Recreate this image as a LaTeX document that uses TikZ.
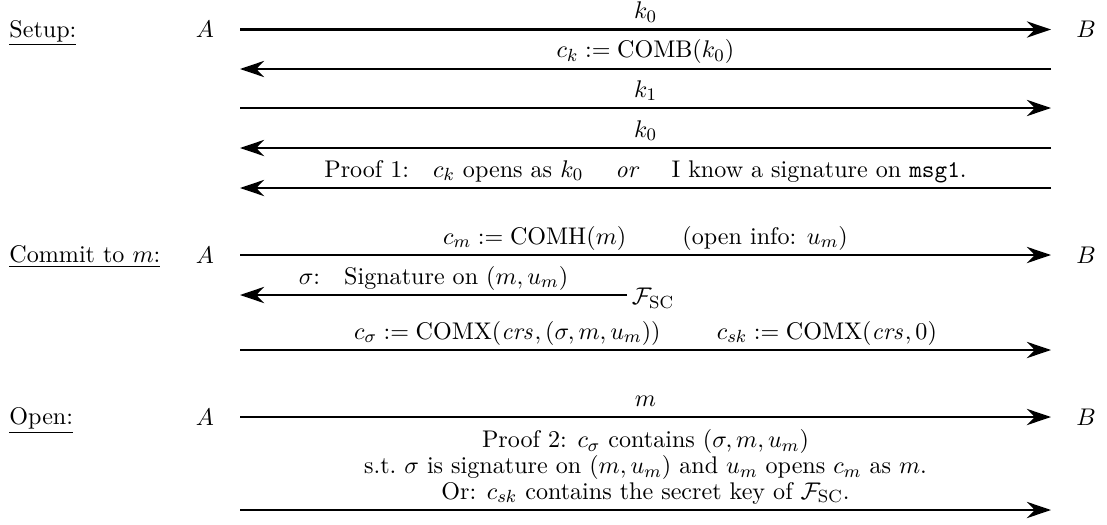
\documentclass[tikz,border=0pt]{standalone}
\usetikzlibrary{arrows.meta}
\begin{document}
\begin{tikzpicture}[x=0.4545pt,y=-0.4545pt,
  font=\fontsize{10.95}{13.6}\selectfont,
  msg/.style={line width=1.1pt,-{Stealth[length=11pt,width=7.4pt,inset=3.6pt]}},
  lbl/.style={anchor=base,inner sep=0pt,yshift=5pt},
  party/.style={inner sep=0pt},
  phase/.style={anchor=base west,inner sep=0pt}]
\path[use as bounding box] (0,0) rectangle (1107,525);

% message rails: left ends (L) and right ends (R)
\foreach \n/\y in {1/29.5,2/69,3/108,4/148,5/188,6/255,7/295,8/350,9/417,10/510}{
  \coordinate (L\n) at (240,\y);
  \coordinate (R\n) at (1051,\y);
}

% phase headings and parties
\node[phase] (ph1) at (9,37) {\underline{Setup:}};
\node[phase] (ph2) at (9,262.5) {\underline{Commit to $m$:}};
\node[phase] (ph3) at (9,424.5) {\underline{Open:}};
\node[party] (A1) at (205,29.5) {$A$};
\node[party] (B1) at (1086,29.5) {$B$};
\node[party] (A2) at (205,255) {$A$};
\node[party] (B2) at (1086,255) {$B$};
\node[party] (A3) at (205,417) {$A$};
\node[party] (B3) at (1086,417) {$B$};

% setup
\draw[msg] (L1) -- node[lbl] {$k_0$} (R1);
\draw[msg] (R2) -- node[lbl] {$c_k := \mathrm{COMB}(k_0)$} (L2);
\draw[msg] (L3) -- node[lbl] {$k_1$} (R3);
\draw[msg] (R4) -- node[lbl] {$k_0$} (L4);
\draw[msg] (R5) -- node[lbl] {Proof 1:\quad $c_k$ opens as $k_0$ \quad \textit{or} \quad I know a signature on \texttt{msg1}.} (L5);

% commit
\draw[msg] (L6) -- node[lbl] {$c_m := \mathrm{COMH}(m)$ \qquad (open info: $u_m$)} (R6);
\node[anchor=west,inner sep=2pt,yshift=-1.5pt] (fsc) at (627,295) {$\mathcal{F}_{\mathrm{SC}}$};
\draw[msg] ([yshift=1.5pt]fsc.west) -- node[lbl] {$\sigma$:\quad Signature on $(m,u_m)$} (L7);
\draw[msg] (L8) -- node[lbl] {$c_\sigma := \mathrm{COMX}(\mathit{crs},(\sigma,m,u_m))$ \qquad $c_{sk} := \mathrm{COMX}(\mathit{crs},0)$} (R8);

% open
\draw[msg] (L9) -- node[lbl] {$m$} (R9);
\draw[msg] (L10) -- node[anchor=south,inner sep=0pt,yshift=2.2pt,align=center,
    font=\fontsize{10.95}{11.6}\selectfont]
  {Proof 2: $c_\sigma$ contains $(\sigma,m,u_m)$\\
   s.t.\ $\sigma$ is signature on $(m,u_m)$ and $u_m$ opens $c_m$ as $m$.\\
   Or: $c_{sk}$ contains the secret key of $\mathcal{F}_{\mathrm{SC}}$.} (R10);
\end{tikzpicture}
\end{document}
